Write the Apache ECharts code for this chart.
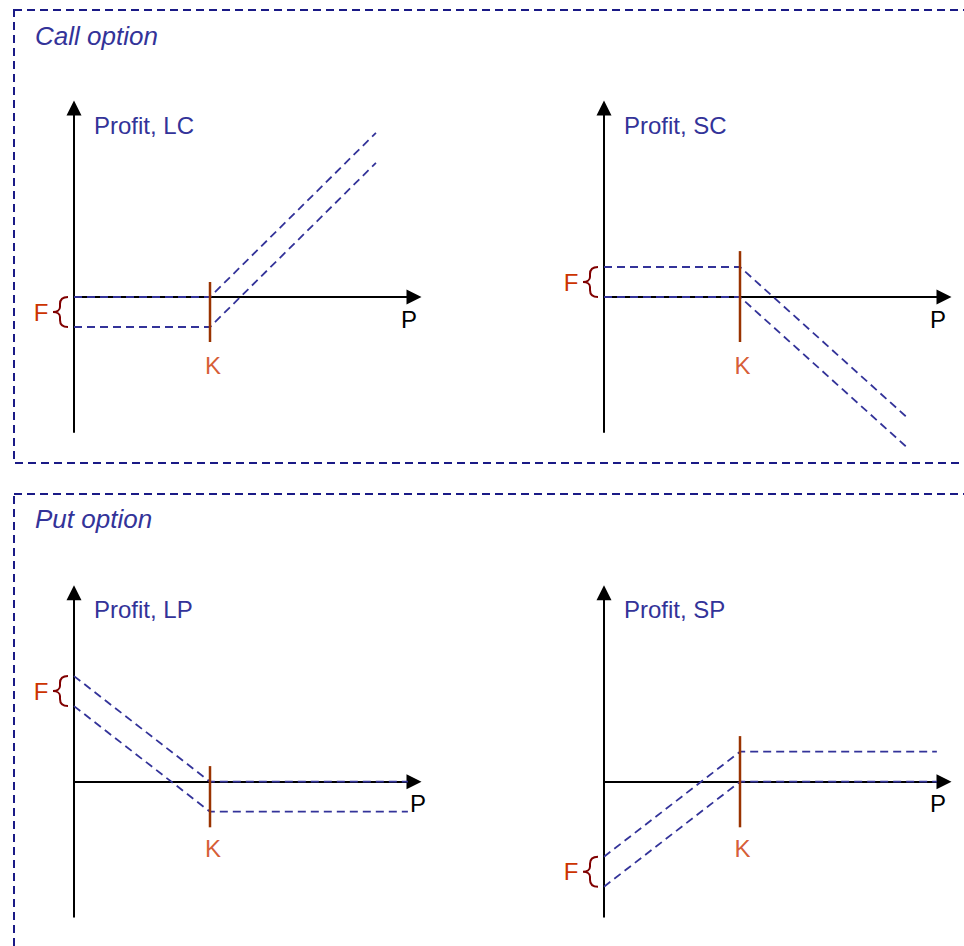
<!DOCTYPE html>
<html>
<head>
<meta charset="utf-8">
<script src="https://cdn.jsdelivr.net/npm/echarts@6/dist/echarts.min.js"></script>
<style>
  html, body { margin: 0; padding: 0; background: #ffffff; }
  #chart { width: 964px; height: 946px; }
</style>
</head>
<body>
<div id="chart"></div>
<script>
// ---------- data ----------
const sectionTitles = ['Call option', 'Put option'];
const profitNames = ['Profit, LC', 'Profit, SC', 'Profit, LP', 'Profit, SP'];
const strikeK = 4;
const xMax = 10;
const yMin = -4.5;
const yMax = 6.3;

// Long call
const lcUpper = [[0, 0], [4, 0], [8.88, 5.47]];
const lcLower = [[0, -1], [4, -1], [8.88, 4.47]];
// Short call
const scUpper = [[0, 1], [4, 1], [8.9, -4.0]];
const scLower = [[0, 0], [4, 0], [8.9, -5.0]];
// Long put
const lpUpper = [[0, 3.52], [4, 0], [9.82, 0]];
const lpLower = [[0, 2.52], [4, -1], [9.82, -1]];
// Short put
const spUpper = [[0, -2.5], [4, 1], [9.79, 1]];
const spLower = [[0, -3.5], [4, 0], [9.79, 0]];

// vertical strike marker extents [top, bottom]
const kSpans = [[0.5, -1.5], [1.53, -1.5], [0.52, -1.52], [1.52, -1.52]];
// premium (F) brace extents [top, bottom]
const feeSpans = [[0, -1], [1, 0], [3.52, 2.52], [-2.5, -3.5]];
// "K" label anchor
const kLabelPos = [[4.09, -2.27], [4.07, -2.27], [4.09, -2.24], [4.07, -2.24]];

// ---------- layout & style ----------
const FONT = '"Liberation Sans", Arial, Helvetica, sans-serif';
const BLUE = '#333399';
const BOX = '#1a1a86';
const KLINE = '#993300';
const KTEXT = '#cc3300';
const BRACE = '#800000';

const gridLeft = [74, 604, 74, 604];
const gridTop = [108, 108, 592.7, 592.7];
const gridW = 340;
const gridH = 324;
const pNameGap = [3, 2, 12, 2];

const upperSets = [lcUpper, scUpper, lpUpper, spUpper];
const lowerSets = [lcLower, scLower, lpLower, spLower];

const grids = [], xAxes = [], yAxes = [], series = [];

function renderBrace(params, api) {
  const top = api.coord([0, api.value(0)]);
  const bot = api.coord([0, api.value(1)]);
  const x0 = top[0], t = top[1], b = bot[1], m = (t + b) / 2;
  const d = 'M' + (x0 - 6) + ',' + t +
    ' C' + (x0 - 11) + ',' + t + ' ' + (x0 - 14) + ',' + (t + 2) + ' ' + (x0 - 14) + ',' + (t + 7) +
    ' L' + (x0 - 14) + ',' + (m - 5) +
    ' C' + (x0 - 14) + ',' + (m - 2) + ' ' + (x0 - 17) + ',' + m + ' ' + (x0 - 21) + ',' + m +
    ' C' + (x0 - 17) + ',' + m + ' ' + (x0 - 14) + ',' + (m + 2) + ' ' + (x0 - 14) + ',' + (m + 5) +
    ' L' + (x0 - 14) + ',' + (b - 7) +
    ' C' + (x0 - 14) + ',' + (b - 2) + ' ' + (x0 - 11) + ',' + b + ' ' + (x0 - 6) + ',' + b;
  return {
    type: 'group',
    children: [
      { type: 'path', shape: { pathData: d }, style: { fill: 'none', stroke: BRACE, lineWidth: 2 } },
      { type: 'text', x: x0 - 33, y: m,
        style: { text: 'F', fill: KTEXT, fontSize: 24, fontFamily: FONT, align: 'center', verticalAlign: 'middle' } }
    ]
  };
}

for (let i = 0; i < 4; i++) {
  grids.push({ left: gridLeft[i], top: gridTop[i], width: gridW, height: gridH, containLabel: false });
  xAxes.push({
    gridIndex: i, type: 'value', min: 0, max: xMax,
    name: 'P', nameLocation: 'end', nameGap: pNameGap[i],
    nameTextStyle: { color: '#000', fontSize: 24, fontFamily: FONT, align: 'right', verticalAlign: 'top', padding: [10, 0, 0, 0] },
    axisLine: { onZero: true, symbol: ['none', 'triangle'], symbolSize: [15, 15], lineStyle: { color: '#000', width: 2 } },
    axisTick: { show: false }, axisLabel: { show: false }, splitLine: { show: false }
  });
  yAxes.push({
    gridIndex: i, type: 'value', min: yMin, max: yMax,
    name: profitNames[i], nameLocation: 'end', nameGap: -17,
    nameTextStyle: { color: BLUE, fontSize: 24, fontFamily: FONT, align: 'left', verticalAlign: 'middle', padding: [0, 0, 0, 20] },
    axisLine: { onZero: false, symbol: ['none', 'triangle'], symbolSize: [15, 15], lineStyle: { color: '#000', width: 2 } },
    axisTick: { show: false }, axisLabel: { show: false }, splitLine: { show: false }
  });
  [upperSets[i], lowerSets[i]].forEach(function (d) {
    series.push({
      type: 'line', xAxisIndex: i, yAxisIndex: i, data: d, symbol: 'none', clip: false, z: 5,
      lineStyle: { color: BLUE, width: 1.8, type: [8, 5] }, silent: true
    });
  });
  series.push({
    type: 'line', xAxisIndex: i, yAxisIndex: i, symbol: 'none', clip: false, z: 6,
    data: [[strikeK, kSpans[i][0]], [strikeK, kSpans[i][1]]],
    lineStyle: { color: KLINE, width: 2.5 }, silent: true
  });
  series.push({
    type: 'scatter', xAxisIndex: i, yAxisIndex: i, data: [kLabelPos[i]], symbolSize: 1,
    itemStyle: { color: 'rgba(0,0,0,0)' }, silent: true, clip: false,
    label: { show: true, formatter: 'K', position: 'inside', color: KTEXT, fontSize: 24, fontFamily: FONT }
  });
  series.push({
    type: 'custom', xAxisIndex: i, yAxisIndex: i, data: [feeSpans[i]], renderItem: renderBrace, silent: true, z: 6
  });
}

const chart = echarts.init(document.getElementById('chart'), null, { renderer: 'svg' });
chart.setOption({
  animation: false,
  backgroundColor: '#ffffff',
  title: [
    { text: sectionTitles[0], left: 35, top: 23, padding: 0,
      textStyle: { color: BLUE, fontStyle: 'italic', fontWeight: 'normal', fontSize: 26, fontFamily: FONT } },
    { text: sectionTitles[1], left: 35, top: 506, padding: 0,
      textStyle: { color: BLUE, fontStyle: 'italic', fontWeight: 'normal', fontSize: 26, fontFamily: FONT } }
  ],
  graphic: [
    { type: 'rect', z: -1, silent: true, shape: { x: 14, y: 10, width: 1000, height: 453 },
      style: { fill: 'none', stroke: BOX, lineWidth: 2, lineDash: [8, 5] } },
    { type: 'rect', z: -1, silent: true, shape: { x: 14, y: 494, width: 1000, height: 500 },
      style: { fill: 'none', stroke: BOX, lineWidth: 2, lineDash: [8, 5] } }
  ],
  grid: grids,
  xAxis: xAxes,
  yAxis: yAxes,
  series: series
});
</script>
</body>
</html>
